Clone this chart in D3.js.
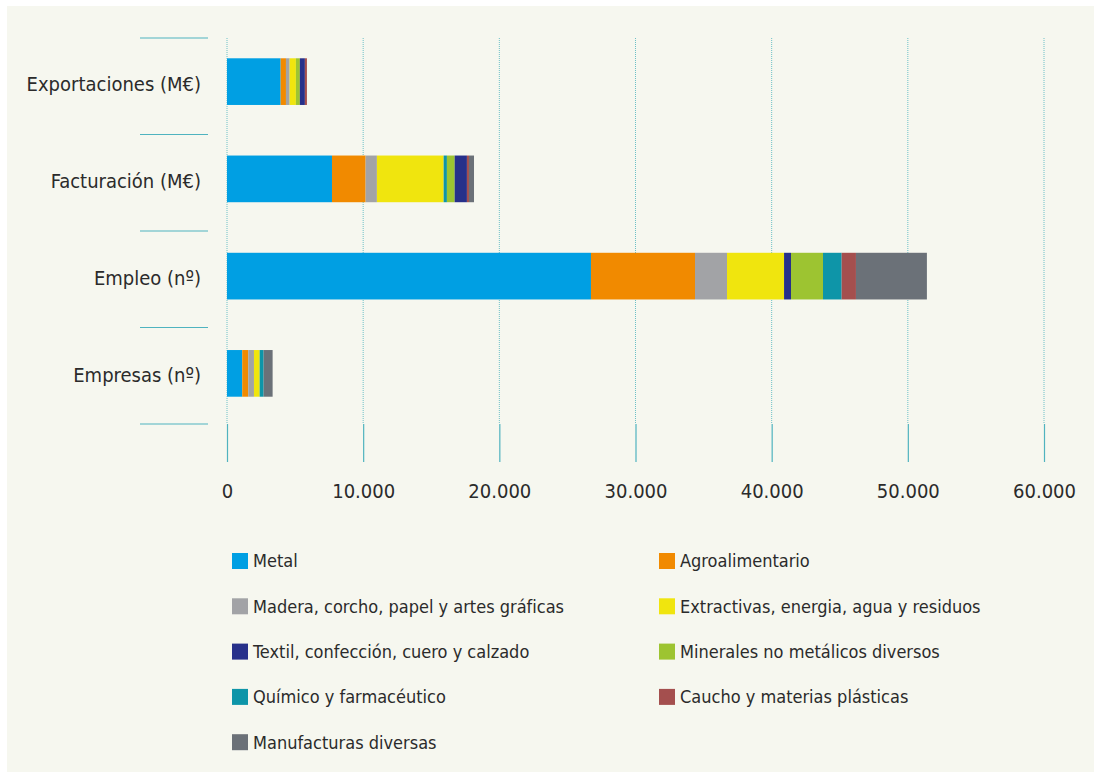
<!DOCTYPE html>
<html lang="es">
<head>
    <meta charset="UTF-8">
    <title>Sectores</title>
    <script src="https://cdn.jsdelivr.net/npm/d3@7"></script>
    <style>
        body { margin: 0; background: #fff; }
        text { font-family: "Liberation Sans Narrow", "DejaVu Sans Condensed", sans-serif; fill: #2b2b2b; }
    </style>
</head>
<body>
<script type="text/javascript">
    // categorias (de arriba a abajo)
    var categorias = ['Exportaciones (M€)', 'Facturación (M€)', 'Empleo (nº)', 'Empresas (nº)'];
    var sectores = ['Metal', 'Agroalimentario', 'Madera, corcho, papel y artes gráficas',
        'Extractivas, energia, agua y residuos', 'Textil, confección, cuero y calzado',
        'Minerales no metálicos diversos', 'Químico y farmacéutico', 'Caucho y materias plásticas',
        'Manufacturas diversas'];
    var colores = ['#009fe3', '#f18a00', '#a2a3a6', '#f0e50e', '#27308a', '#9dc431', '#0e95a8', '#a44f4e', '#6b7178'];

    // valores por sector: [Exportaciones, Facturacion, Empleo, Empresas]
    var metal = [3940, 7710, 26730, 1120];
    var agro = [390, 2470, 7640, 440];
    var madera = [270, 830, 2350, 420];
    var extractivas = [460, 4900, 4190, 420];
    var textil = [370, 900, 510, 0];
    var minerales = [290, 570, 2350, 0];
    var quimico = [0, 240, 1370, 290];
    var caucho = [150, 150, 1050, 0];
    var manufacturas = [0, 370, 5210, 660];
    var valores = [metal, agro, madera, extractivas, textil, minerales, quimico, caucho, manufacturas];

    // orden de apilado de cada fila (indices de sectores)
    var ordenFila = [
        [0, 1, 2, 3, 5, 4, 6, 7, 8],
        [0, 1, 2, 3, 6, 5, 4, 7, 8],
        [0, 1, 2, 3, 4, 5, 6, 7, 8],
        [0, 1, 2, 3, 6, 4, 5, 7, 8]
    ];
    var ticksX = [0, 10000, 20000, 30000, 40000, 50000, 60000];

    var W = 1101, H = 779;
    var svg = d3.select('body').append('svg')
            .attr('width', W)
            .attr('height', H);

    svg.append('rect')
            .attr('x', 7).attr('y', 6)
            .attr('width', 1087).attr('height', 766)
            .attr('fill', '#f6f7ef');

    var x = d3.scaleLinear().domain([0, 60000]).range([227, 1044]);
    // barras algo por encima del centro de cada franja
    var y = d3.scaleBand().domain(categorias).range([33, 422]).paddingInner(0.52).paddingOuter(0.26);
    var paso = 96.5;

    // rejilla vertical punteada
    svg.selectAll('line.grid')
            .data(ticksX)
            .enter()
            .append('line')
            .attr('class', 'grid')
            .attr('x1', function (d) { return x(d); })
            .attr('x2', function (d) { return x(d); })
            .attr('y1', 38)
            .attr('y2', 424)
            .attr('stroke', '#6cc0c6')
            .attr('stroke-width', 1)
            .attr('stroke-dasharray', '1,1');

    // segmentos
    var segs = [];
    categorias.forEach(function (c, i) {
        var acc = 0;
        ordenFila[i].forEach(function (s) {
            var v = valores[s][i];
            if (v > 0) segs.push({cat: c, s: s, x0: acc, x1: acc + v});
            acc += v;
        });
    });
    svg.selectAll('rect.seg')
            .data(segs)
            .enter()
            .append('rect')
            .attr('class', 'seg')
            .attr('x', function (d) { return x(d.x0); })
            .attr('width', function (d) { return x(d.x1) - x(d.x0); })
            .attr('y', function (d) { return y(d.cat); })
            .attr('height', y.bandwidth())
            .attr('fill', function (d) { return colores[d.s]; });

    // eje x (marcas solidas bajo la rejilla)
    var ejeX = d3.axisBottom(x)
            .tickValues(ticksX)
            .tickSize(38)
            .tickFormat(function (d) { return d3.format(',')(d).replace(/,/g, '.'); });
    var gx = svg.append('g').attr('transform', 'translate(0,424)').call(ejeX);
    gx.select('.domain').remove();
    gx.selectAll('line').attr('stroke', '#4fb3bf').attr('stroke-width', 1.2);
    gx.selectAll('text')
            .attr('y', 67)
            .attr('dy', '0.35em')
            .style('font-size', '20px')
            .style('fill', '#2b2b2b');

    // eje y: separadores entre categorias
    var bordes = [38].concat(categorias.map(function (c, i) { return 38 + paso * (i + 1); }));
    svg.selectAll('line.sep')
            .data(bordes)
            .enter()
            .append('line')
            .attr('class', 'sep')
            .attr('x1', 140).attr('x2', 208)
            .attr('y1', function (d) { return d; })
            .attr('y2', function (d) { return d; })
            .attr('stroke', '#4fb3bf')
            .attr('stroke-width', 1.2);

    svg.selectAll('text.cat')
            .data(categorias)
            .enter()
            .append('text')
            .attr('class', 'cat')
            .attr('x', 201)
            .attr('y', function (d) { return y(d) + y.bandwidth() / 2 + 2; })
            .attr('dy', '0.35em')
            .attr('text-anchor', 'end')
            .style('font-size', '20px')
            .text(function (d) { return d; });

    // leyenda
    var leyenda = svg.selectAll('g.ley')
            .data(sectores)
            .enter()
            .append('g')
            .attr('class', 'ley')
            .attr('transform', function (d, i) {
                return 'translate(' + (i % 2 === 0 ? 232 : 659) + ',' + (561 + Math.floor(i / 2) * 45.3) + ')';
            });
    leyenda.append('rect')
            .attr('x', 0).attr('y', -8)
            .attr('width', 16).attr('height', 16)
            .attr('fill', function (d, i) { return colores[i]; });
    leyenda.append('text')
            .attr('x', 21)
            .attr('dy', '0.35em')
            .style('font-size', '18px')
            .text(function (d) { return d; });
</script>
</body>
</html>
